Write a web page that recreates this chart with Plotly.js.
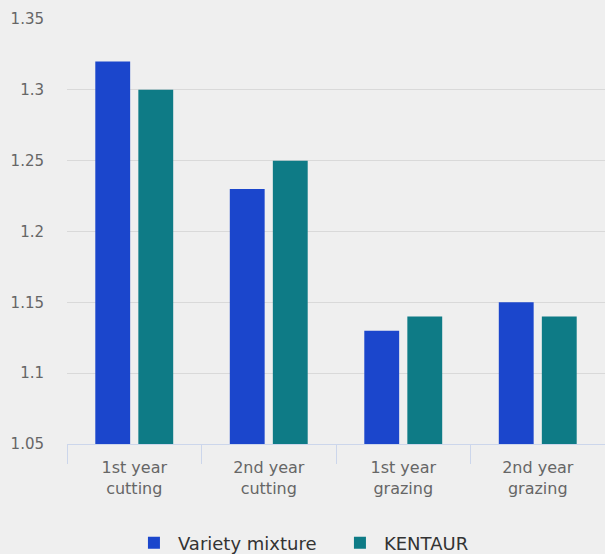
<!DOCTYPE html>
<html><head><meta charset="utf-8">
<script src="https://cdn.plot.ly/plotly-3.0.1.min.js"></script>
<style>body{margin:0;background:#efefef}</style>
</head><body><div id="chart" style="width:605px;height:554px"></div>
<script>
const categories = ["1st year<br>cutting", "2nd year<br>cutting", "1st year<br>grazing", "2nd year<br>grazing"];
const varietyMixture = [1.32, 1.23, 1.13, 1.15];
const kentaur = [1.30, 1.25, 1.14, 1.14];
const yTicks = [1.05, 1.1, 1.15, 1.2, 1.25, 1.3, 1.35];
const yTickText = ["1.05", "1.1", "1.15", "1.2", "1.25", "1.3", "1.35"];

const font = "DejaVu Sans, Verdana, sans-serif";
const data = [
  {type: "bar", name: "Variety mixture", x: categories, y: varietyMixture,
   marker: {color: "#1b46cc"}, hoverinfo: "none"},
  {type: "bar", name: "KENTAUR", x: categories, y: kentaur,
   marker: {color: "#0e7b86"}, hoverinfo: "none"}
];
const layout = {
  width: 605, height: 554,
  paper_bgcolor: "#efefef", plot_bgcolor: "#efefef",
  margin: {l: 67, r: 0, t: 19, b: 110, autoexpand: false},
  barmode: "group", bargap: 0.36, bargroupgap: 0.19,
  font: {family: font, size: 15, color: "#666666"},
  xaxis: {
    type: "category", tickson: "boundaries", ticks: "outside", ticklen: 19,
    tickcolor: "#ccd6eb", tickwidth: 1, showline: true, linecolor: "#ccd6eb",
    linewidth: 1, showgrid: false, ticklabelstandoff: 9, automargin: false,
    tickfont: {family: font, size: 16, color: "#666666"}
  },
  yaxis: {
    range: [1.05, 1.35], tickvals: yTicks, ticktext: yTickText, automargin: false,
    showgrid: true, gridcolor: "#d9d9d9", gridwidth: 1, zeroline: false,
    ticks: "", ticklabelstandoff: 22,
    tickfont: {family: font, size: 15, color: "#666666"}
  },
  showlegend: true,
  legend: {orientation: "h", x: 0.117, xanchor: "left", y: -0.233, yanchor: "middle",
    font: {family: font, size: 18, color: "#333333"}, itemwidth: 38,
    entrywidth: 153, entrywidthmode: "pixels", traceorder: "normal"}
};
Plotly.newPlot("chart", data, layout, {staticPlot: true});
</script></body></html>
